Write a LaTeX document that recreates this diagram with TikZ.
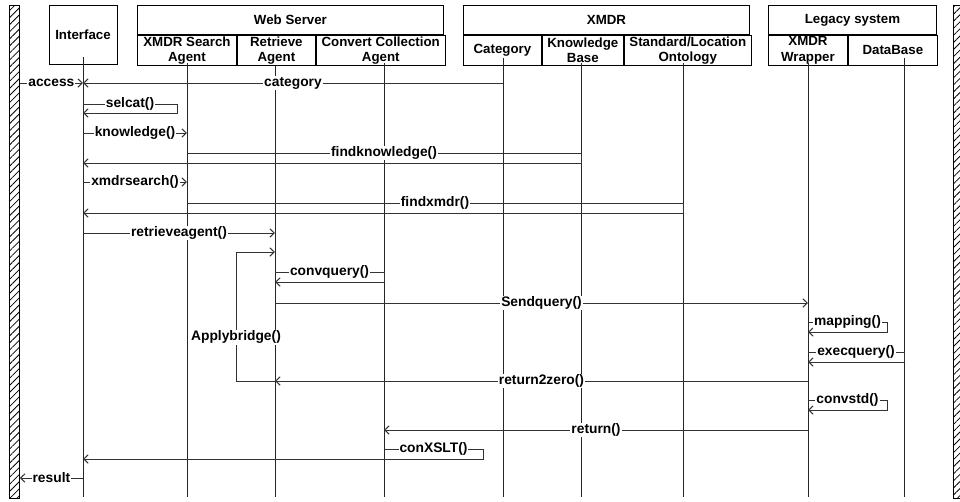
\documentclass[tikz,border=0pt]{standalone}
\usepackage{fontspec}
\setmainfont{Liberation Sans}
\usetikzlibrary{arrows.meta, positioning, patterns.meta}
\tikzstyle{hdr} = [draw, rectangle, inner sep=0pt, align=center, line width=0.9pt, font=\bfseries\fontsize{13.3}{15.5}\selectfont]
\tikzstyle{lbl} = [fill=white, inner sep=1pt, font=\bfseries\fontsize{13.8}{15.5}\selectfont]
\tikzstyle{msg} = [->, line width=1pt, draw=black!80]
\tikzstyle{life} = [line width=1pt, draw=black!85]
\tikzstyle{env} = [draw, rectangle, line width=0.9pt, minimum width=10pt, minimum height=493pt, pattern={Lines[angle=45,distance=5pt,line width=0.8pt]}]

\begin{document}
\begin{tikzpicture}[x=1pt, y=-1pt, >={Straight Barb[length=4.5pt,width=8.5pt]}]
  \useasboundingbox (0,0) rectangle (960,501);

  \node[env, anchor=north west] (EnvL) at (9,5) {};
  \node[env, anchor=north west] (EnvR) at (953,5) {};

  \node[hdr, minimum width=68pt, minimum height=59pt] (Ibox) at (83,34.5) {Interface};
  \node[hdr, minimum width=306pt, minimum height=29pt, anchor=north west] (WS) at (137,5) {Web Server};
  \node[hdr, minimum width=99pt, minimum height=30pt, below right=0pt and 0pt of WS.south west] (WSa) {XMDR Search\\Agent};
  \node[hdr, minimum width=78pt, minimum height=30pt, right=0pt of WSa] (WSb) {Retrieve\\Agent};
  \node[hdr, minimum width=129pt, minimum height=30pt, right=0pt of WSb] (WSc) {Convert Collection\\Agent};
  \node[hdr, minimum width=286pt, minimum height=29pt, anchor=north west] (XM) at (463,5) {XMDR};
  \node[hdr, minimum width=78pt, minimum height=30pt, below right=0pt and 0pt of XM.south west] (XMa) {Category};
  \node[hdr, minimum width=81pt, minimum height=30pt, right=0pt of XMa] (XMb) {Knowledge\\Base};
  \node[hdr, minimum width=127pt, minimum height=30pt, right=0pt of XMb] (XMc) {Standard/Location\\Ontology};
  \node[hdr, minimum width=168pt, minimum height=29pt, anchor=north west] (LS) at (768,5) {Legacy system};
  \node[hdr, minimum width=79pt, minimum height=30pt, below right=0pt and 0pt of LS.south west] (LSa) {XMDR\\Wrapper};
  \node[hdr, minimum width=89pt, minimum height=30pt, right=0pt of LSa] (LSb) {DataBase};

  \coordinate (bot) at (0,497);
  \foreach \n/\x/\t in {Ifc/83/57, Xsa/187/63, Rag/275/66, Cca/384/63, Cat/503/58, Kbs/581/63, Ont/683/63, Xwr/808/63, Dbs/904/58}
    {\coordinate (\n) at (\x,\t);
     \draw[life] (\n) -- (\n |- bot);}

  \foreach \n/\y in {acc/83, sel/104, selR/113, kn/133, fk/153, fkR/163, xs/182, fx/203, fxR/213, ra/233, ab/252, cq/272, cqR/282, sq/303, map/322, mapR/332, eq/352, eqR/362, rz/381, cs/400, csR/410, ret/430, cx/449, cxR/459, res/478}
    \coordinate (\n) at (0,\y);

  \draw[msg] (EnvL.east |- acc) -- node[lbl]{access} (Ifc |- acc);
  \draw[msg] (Cat |- acc) -- node[lbl]{category} (Ifc |- acc);
  \draw[msg] (Ifc |- sel) -- node[lbl]{selcat()} ++(94,0) |- (Ifc |- selR);
  \draw[msg] (Ifc |- kn) -- node[lbl]{knowledge()} (Xsa |- kn);
  \draw[msg] (Xsa |- fk) -- node[lbl]{findknowledge()} (Kbs |- fk) -- (Kbs |- fkR) -- (Ifc |- fkR);
  \draw[msg] (Ifc |- xs) -- node[lbl]{xmdrsearch()} (Xsa |- xs);
  \draw[msg] (Xsa |- fx) -- node[lbl]{findxmdr()} (Ont |- fx) -- (Ont |- fxR) -- (Ifc |- fxR);
  \draw[msg] (Ifc |- ra) -- node[lbl]{retrieveagent()} (Rag |- ra);
  \draw[msg] (Rag |- rz) -- ++(-39,0) -- node[lbl, pos=0.34]{Applybridge()} ++(0,-129) -- (Rag |- ab);
  \draw[msg] (Rag |- cq) -- node[lbl]{convquery()} (Cca |- cq) -- (Cca |- cqR) -- (Rag |- cqR);
  \draw[msg] (Rag |- sq) -- node[lbl]{Sendquery()} (Xwr |- sq);
  \draw[msg] (Xwr |- map) -- node[lbl]{mapping()} ++(79,0) |- (Xwr |- mapR);
  \draw[msg] (Xwr |- eq) -- node[lbl]{execquery()} (Dbs |- eq) -- (Dbs |- eqR) -- (Xwr |- eqR);
  \draw[msg] (Xwr |- rz) -- node[lbl]{return2zero()} (Rag |- rz);
  \draw[msg] (Xwr |- cs) -- node[lbl]{convstd()} ++(79,0) |- (Xwr |- csR);
  \draw[msg] (Xwr |- ret) -- node[lbl]{return()} (Cca |- ret);
  \draw[msg] (Cca |- cx) -- node[lbl]{conXSLT()} ++(99,0) |- (Ifc |- cxR);
  \draw[msg] (Ifc |- res) -- node[lbl]{result} (EnvL.east |- res);
\end{tikzpicture}
\end{document}
